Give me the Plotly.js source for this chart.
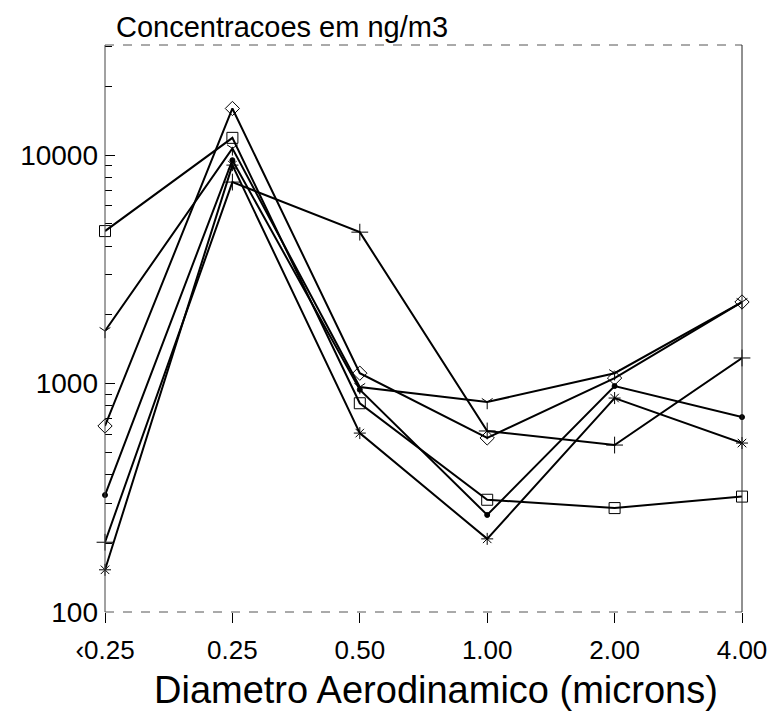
<!DOCTYPE html>
<html>
<head>
<meta charset="utf-8">
<script src="https://cdn.plot.ly/plotly-3.0.1.min.js"></script>
<style>html,body{margin:0;padding:0;background:#fff;}#chart{width:770px;height:715px;}</style>
</head>
<body>
<div id="chart"></div>
<script>
// Categories (aerodynamic diameter, microns)
var categories = ["\u20390.25", "0.25", "0.50", "1.00", "2.00", "4.00"];
// Series values (ng/m3)
var seriesSquare  = [4650, 11900, 820, 310, 285, 320];
var seriesDiamond = [652, 16000, 1110, 578, 1057, 2275];
var seriesXStar   = [1698, 10700, 966, 830, 1110, 2275];
var seriesDot     = [325, 9500, 940, 266, 975, 713];
var seriesPlus    = [202, 7620, 4600, 620, 538, 1294];
var seriesStar    = [153, 9040, 607, 209, 864, 549];
var yTickVals = [100, 1000, 10000];
var yTickText = ["100", "1000", "10000"];
var xTitle = 'Diametro Aerodinamico (microns)';
var yTitle = 'Concentracoes em ng/m3';

var xIdx = categories.map(function(_, i){ return i; });
function tr(y, sym, size){
  return {x: xIdx, y: y, type: 'scatter', mode: 'lines+markers', cliponaxis: false,
    line: {color: '#000', width: 2},
    marker: {symbol: sym, size: size, color: '#000', line: {color: '#000', width: 1}},
    showlegend: false, hoverinfo: 'skip'};
}
var data = [
  tr(seriesSquare, 'square-open', 11),
  tr(seriesDiamond, 'diamond-open', 11),
  tr(seriesXStar, 'y-down-open', 9),
  tr(seriesDot, 'circle', 5),
  tr(seriesPlus, 'cross-thin-open', 12),
  tr(seriesStar, 'asterisk-open', 10)
];

var F = 'Liberation Sans, Arial, sans-serif';
var layout = {
  width: 770, height: 715,
  margin: {l: 105, r: 28, t: 45, b: 103},
  paper_bgcolor: '#fff', plot_bgcolor: '#fff',
  font: {family: F, color: '#000'},
  title: {text: yTitle, xref: 'container', yref: 'container',
    x: 116/770, xanchor: 'left', y: 1 - 27/715, yanchor: 'middle',
    font: {family: F, size: 29, color: '#000'}},
  xaxis: {
    range: [0, 5], tickvals: xIdx, ticktext: categories,
    showgrid: false, zeroline: false, showline: false,
    ticks: 'outside', ticklen: 10, tickcolor: '#000', tickwidth: 1,
    tickfont: {family: F, size: 26, color: '#000'}, ticklabelstandoff: 5,
    ticklabeloverflow: 'allow'
  },
  yaxis: {
    type: 'log', range: [2, 4.482],
    tickvals: yTickVals, ticktext: yTickText,
    showgrid: false, zeroline: false, showline: false,
    ticks: 'inside', ticklen: 10, tickcolor: '#000', tickwidth: 1,
    tickfont: {family: F, size: 28, color: '#000'}, ticklabelstandoff: 6,
    ticklabeloverflow: 'allow',
    minor: {ticks: 'inside', ticklen: 7, tickcolor: '#000', tickwidth: 1, dtick: 'D1'}
  },
  annotations: [
    {text: xTitle, xref: 'paper', yref: 'paper', x: (436-105)/637, y: -(690-612)/567,
     xanchor: 'center', yanchor: 'middle', showarrow: false,
     font: {family: F, size: 38, color: '#000'}}
  ],
  shapes: [
    {type: 'line', xref: 'paper', yref: 'paper', x0: 0, x1: 1, y0: 1, y1: 1, line: {color: '#555', width: 1, dash: 'dash'}},
    {type: 'line', xref: 'paper', yref: 'paper', x0: 0, x1: 1, y0: 0, y1: 0, line: {color: '#555', width: 1, dash: 'dash'}},
    {type: 'line', xref: 'paper', yref: 'paper', x0: 0, x1: 0, y0: 0, y1: 1, line: {color: '#444', width: 1}},
    {type: 'line', xref: 'paper', yref: 'paper', x0: 1, x1: 1, y0: 0, y1: 1, line: {color: '#222', width: 1}}
  ]
};
Plotly.newPlot('chart', data, layout, {displayModeBar: false, staticPlot: true});
</script>
</body>
</html>
